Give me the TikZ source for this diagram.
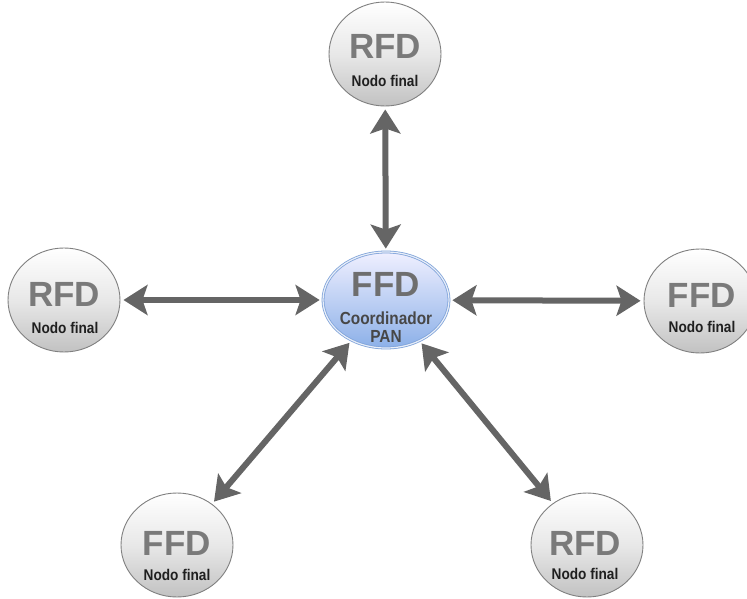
\documentclass[tikz,border=0pt]{standalone}
\usepackage{fontspec}
\setmainfont{Liberation Sans}
\newfontfamily\narrowsans[FakeStretch=0.88]{Liberation Sans}
\usetikzlibrary{shapes.geometric,arrows.meta}
\definecolor{arrowgray}{HTML}{656565}
\definecolor{rimgray}{HTML}{808080}
\definecolor{titlegray}{HTML}{7A7A7A}
\definecolor{rimblue}{HTML}{7FA3DA}
\tikzset{
  endnode/.style={ellipse, draw=rimgray, line width=0.9pt,
    top color=white, bottom color=black!24, middle color=black!9,
    minimum width=112pt, minimum height=104pt, inner sep=0pt},
  hubnode/.style={ellipse, draw=rimblue, line width=0.8pt, double=white!40!rimblue!30, double distance=1.2pt,
    top color=blue!6!white, bottom color={rgb,255:red,140;green,176;blue,232},
    minimum width=126pt, minimum height=96pt, inner sep=0pt},
  roletext/.style={font=\bfseries\fontsize{35}{35}\selectfont, text=titlegray, inner sep=0pt},
  subtext/.style={font=\narrowsans\bfseries\fontsize{15.5}{16}\selectfont, text=black!88, inner sep=0pt},
  hubsub/.style={font=\narrowsans\bfseries\fontsize{17.5}{18}\selectfont, text=black!72, inner sep=0pt},
  link/.style={draw=arrowgray, line width=6pt, shorten <=3pt, shorten >=3pt,
    {Stealth[length=24pt,width=30pt,inset=5pt]}-{Stealth[length=24pt,width=30pt,inset=5pt]}}
}
\begin{document}
\begin{tikzpicture}[x=1pt,y=-1pt]
  \useasboundingbox[fill=white] (0,0) rectangle (747,599);

  % coordinator
  \node[hubnode] (hub) at (386,300) {};
  \node[roletext, text=black!57] (hubrole) at (386,284) {FFD};
  \node[hubsub] (hubsub1) at (386,318) {Coordinador};
  \node[hubsub] (hubsub2) at (386,336) {PAN};

  % end devices
  \node[endnode] (top) at (385,54) {};
  \node[roletext] (toprole) at (385,46) {RFD};
  \node[subtext] (topsub) at (385,81) {Nodo final};

  \node[endnode] (left) at (64,300) {};
  \node[roletext] (leftrole) at (64,294) {RFD};
  \node[subtext] (leftsub) at (65,328) {Nodo final};

  \node[endnode] (right) at (700,301) {};
  \node[roletext] (rightrole) at (702,295) {FFD};
  \node[subtext] (rightsub) at (702,327) {Nodo final};

  \node[endnode] (bl) at (177,545) {};
  \node[roletext] (blrole) at (177,543) {FFD};
  \node[subtext] (blsub) at (177,575) {Nodo final};

  \node[endnode] (br) at (587,545) {};
  \node[roletext] (brrole) at (585,543) {RFD};
  \node[subtext] (brsub) at (585,574) {Nodo final};

  % links
  \draw[link] (top) -- (hub);
  \draw[link] (left) -- (hub);
  \draw[link] (right) -- (hub);
  \draw[link] (bl) -- (hub);
  \draw[link] (br) -- (hub);
\end{tikzpicture}
\end{document}
